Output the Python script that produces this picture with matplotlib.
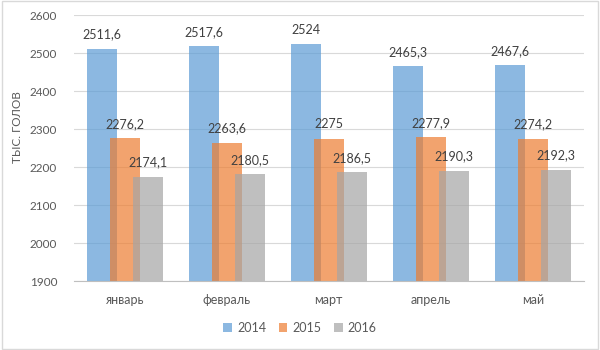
import numpy as np
import matplotlib.pyplot as plt
from matplotlib.patches import Rectangle

plt.rcParams['font.family'] = ['Lato', 'DejaVu Sans']

# data
months = ['январь', 'февраль', 'март', 'апрель', 'май']
years = ['2014', '2015', '2016']
v2014 = [2511.6, 2517.6, 2524, 2465.3, 2467.6]
v2015 = [2276.2, 2263.6, 2275, 2277.9, 2274.2]
v2016 = [2174.1, 2180.5, 2186.5, 2190.3, 2192.3]
colors = ['#5B9BD5', '#ED7D31', '#A5A5A5']

fig = plt.figure(figsize=(6, 3.5), dpi=100)
ax = fig.add_axes([0.123, 0.197, 0.85, 0.76])

x = np.arange(len(months))
step = 0.225
width = 0.295
text_col = '#404040'

for i, (vals, col, lab) in enumerate(zip([v2014, v2015, v2016], colors, years)):
    pos = x + (i - 1) * step
    ax.bar(pos, np.array(vals) - 1900, width=width, bottom=1900, color=col,
           alpha=0.7, label=lab, linewidth=0)
    for p, v in zip(pos, vals):
        ax.annotate(f"{v:g}".replace('.', ','), (p, v), xytext=(0, 6),
                    textcoords='offset points', ha='center', va='bottom',
                    fontsize=9, color=text_col)

ax.set_ylim(1900, 2600)
ax.set_yticks(range(1900, 2601, 100))
ax.set_xlim(-0.5, len(months) - 0.5)
ax.set_xticks(x)
ax.set_xticklabels(months)
ax.tick_params(axis='both', length=0, labelsize=9, labelcolor='#595959')
ax.tick_params(axis='x', pad=9)
ax.tick_params(axis='y', labelsize=8.5, pad=12)
ax.grid(axis='y', color='#D9D9D9', linewidth=0.8)
ax.set_axisbelow(True)
for s in ['top', 'right', 'left']:
    ax.spines[s].set_visible(False)
ax.spines['bottom'].set_color('#BFBFBF')

ax.set_ylabel('ТЫС. ГОЛОВ', fontsize=8.5, color='#595959')
ax.yaxis.set_label_coords(-0.1, 0.58)

handles, labels = ax.get_legend_handles_labels()
fig.legend(handles, labels, loc='center', bbox_to_anchor=(0.5, 0.063), ncol=3,
           frameon=False, fontsize=9, handlelength=0.7, handleheight=0.7,
           handletextpad=0.4, columnspacing=1.0, labelcolor='#595959')

# light chart border
fig.patches.append(Rectangle((0.003, 0.004), 0.994, 0.992, transform=fig.transFigure,
                             fill=False, edgecolor='#D9D9D9', linewidth=1))

fig.savefig('out.png', dpi=100)
